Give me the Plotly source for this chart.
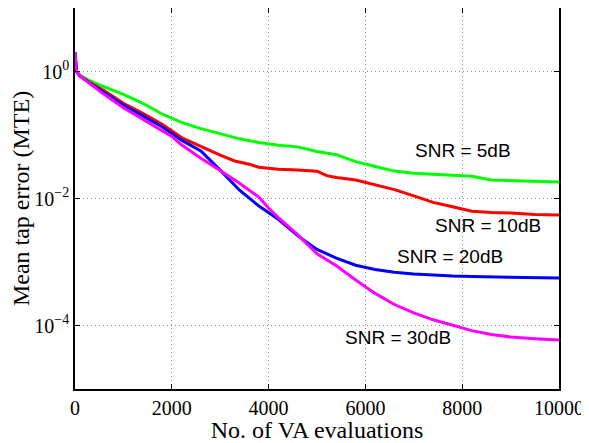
import math
import plotly.graph_objects as go

# ---- data ----
x_green = [0, 30, 100, 300, 600, 1000, 1400, 1800, 2200, 2600, 3000, 3400, 3800, 4200, 4600,
           5000, 5400, 5800, 6200, 6600, 7000, 7400, 7800, 8200, 8600, 9000, 9500, 10000]
y_green = [2.0, 1.0, 0.87, 0.72, 0.575, 0.437, 0.316, 0.214, 0.158, 0.126, 0.105, 0.087, 0.076,
           0.069, 0.065, 0.055, 0.049, 0.038, 0.032, 0.027, 0.025, 0.024, 0.023, 0.0224, 0.0195,
           0.019, 0.0186, 0.0182]

x_red = [0, 30, 100, 300, 600, 1000, 1400, 1800, 2200, 2600, 3000, 3300, 3600, 3800, 4200, 4600,
         5000, 5200, 5400, 5800, 6200, 6600, 7000, 7400, 7800, 8200, 8600, 9000, 9500, 10000]
y_red = [2.0, 1.0, 0.85, 0.676, 0.50, 0.316, 0.219, 0.148, 0.091, 0.066, 0.048, 0.039, 0.0347,
         0.031, 0.0288, 0.0282, 0.0269, 0.0229, 0.0214, 0.0195, 0.0166, 0.0138, 0.011, 0.0087,
         0.0074, 0.0063, 0.0060, 0.0059, 0.0056, 0.0055]

x_blue = [0, 30, 100, 300, 600, 1000, 1400, 1800, 2200, 2600, 3000, 3400, 3800, 4200, 4600,
          5000, 5400, 5800, 6200, 6600, 7000, 7400, 7800, 8200, 8600, 9000, 9500, 10000]
y_blue = [2.0, 1.0, 0.85, 0.66, 0.47, 0.295, 0.20, 0.135, 0.083, 0.056, 0.028, 0.0135, 0.0076,
          0.0047, 0.0026, 0.00158, 0.00115, 0.00089, 0.00076, 0.00069, 0.00065, 0.00062,
          0.00060, 0.00059, 0.00058, 0.00057, 0.00056, 0.00056]

x_mag = [0, 30, 100, 300, 600, 1000, 1400, 1800, 2000, 2200, 2600, 3000, 3400, 3800, 4000, 4200,
         4600, 5000, 5400, 5800, 6200, 6600, 7000, 7400, 7800, 8200, 8600, 9000, 9500, 10000]
y_mag = [2.0, 1.0, 0.85, 0.646, 0.437, 0.269, 0.178, 0.117, 0.095, 0.070, 0.043, 0.0275, 0.0174,
         0.0105, 0.0071, 0.0050, 0.0027, 0.00135, 0.00087, 0.00052, 0.00032, 0.000214, 0.000158,
         0.000123, 0.000100, 0.000083, 0.000072, 0.000066, 0.000062, 0.000059]

label_text = ["SNR = 5dB", "SNR = 10dB", "SNR = 20dB", "SNR = 30dB"]
label_x = [8017, 8533, 7748, 6680]
label_y = [0.0575, 0.0037, 0.00123, 0.0000645]

x_ticks = [0, 2000, 4000, 6000, 8000, 10000]
y_tickvals = [1e-4, 1e-2, 1e0]
y_ticktext = ["10<sup>\u22124</sup>", "10<sup>\u22122</sup>", "10<sup>0</sup>"]

series = [
    (x_green, y_green, "#00ff00", "SNR = 5dB"),
    (x_red, y_red, "#ff0000", "SNR = 10dB"),
    (x_blue, y_blue, "#0000ff", "SNR = 20dB"),
    (x_mag, y_mag, "#ff00ff", "SNR = 30dB"),
]

fig = go.Figure()
for xs, ys, col, nm in series:
    fig.add_trace(go.Scatter(x=xs, y=ys, mode="lines", name=nm,
                             line=dict(color=col, width=3)))

for t, lx, ly in zip(label_text, label_x, label_y):
    fig.add_annotation(x=lx, y=math.log10(ly), text=t, showarrow=False,
                       font=dict(family="Liberation Sans, Arial, sans-serif", size=19, color="black"))

axis_font = dict(family="Liberation Serif, Times New Roman, serif", size=20, color="black")
title_font = dict(family="Liberation Serif, Times New Roman, serif", size=24, color="black")

# the page adds an 8px body margin, so the figure is sized to fit the 589x443 window
fig.update_layout(
    width=581, height=435,
    margin=dict(l=67, r=30, t=0, b=54, autoexpand=False),
    paper_bgcolor="white", plot_bgcolor="white",
    showlegend=False,
)
fig.update_xaxes(
    range=[0, 10000], tickvals=x_ticks, ticktext=[str(v) for v in x_ticks],
    ticks="inside", ticklen=5, tickcolor="black", tickwidth=1,
    showline=True, linecolor="black", linewidth=1.5, mirror="ticks",
    showgrid=True, gridcolor="#888888", griddash="1px,3px", gridwidth=1,
    zeroline=False, tickfont=axis_font, automargin=False,
    title=dict(text="No. of VA evaluations", font=title_font, standoff=0),
)
fig.update_yaxes(
    type="log", range=[-5, 1], tickvals=y_tickvals, ticktext=y_ticktext,
    ticks="inside", ticklen=5, tickcolor="black", tickwidth=1,
    showline=True, linecolor="black", linewidth=1.5, mirror="ticks",
    showgrid=True, gridcolor="#888888", griddash="1px,3px", gridwidth=1,
    zeroline=False, tickfont=axis_font, automargin=False,
    title=dict(text="Mean tap error (MTE)", font=title_font, standoff=0),
)

fig.write_html("out.html")
